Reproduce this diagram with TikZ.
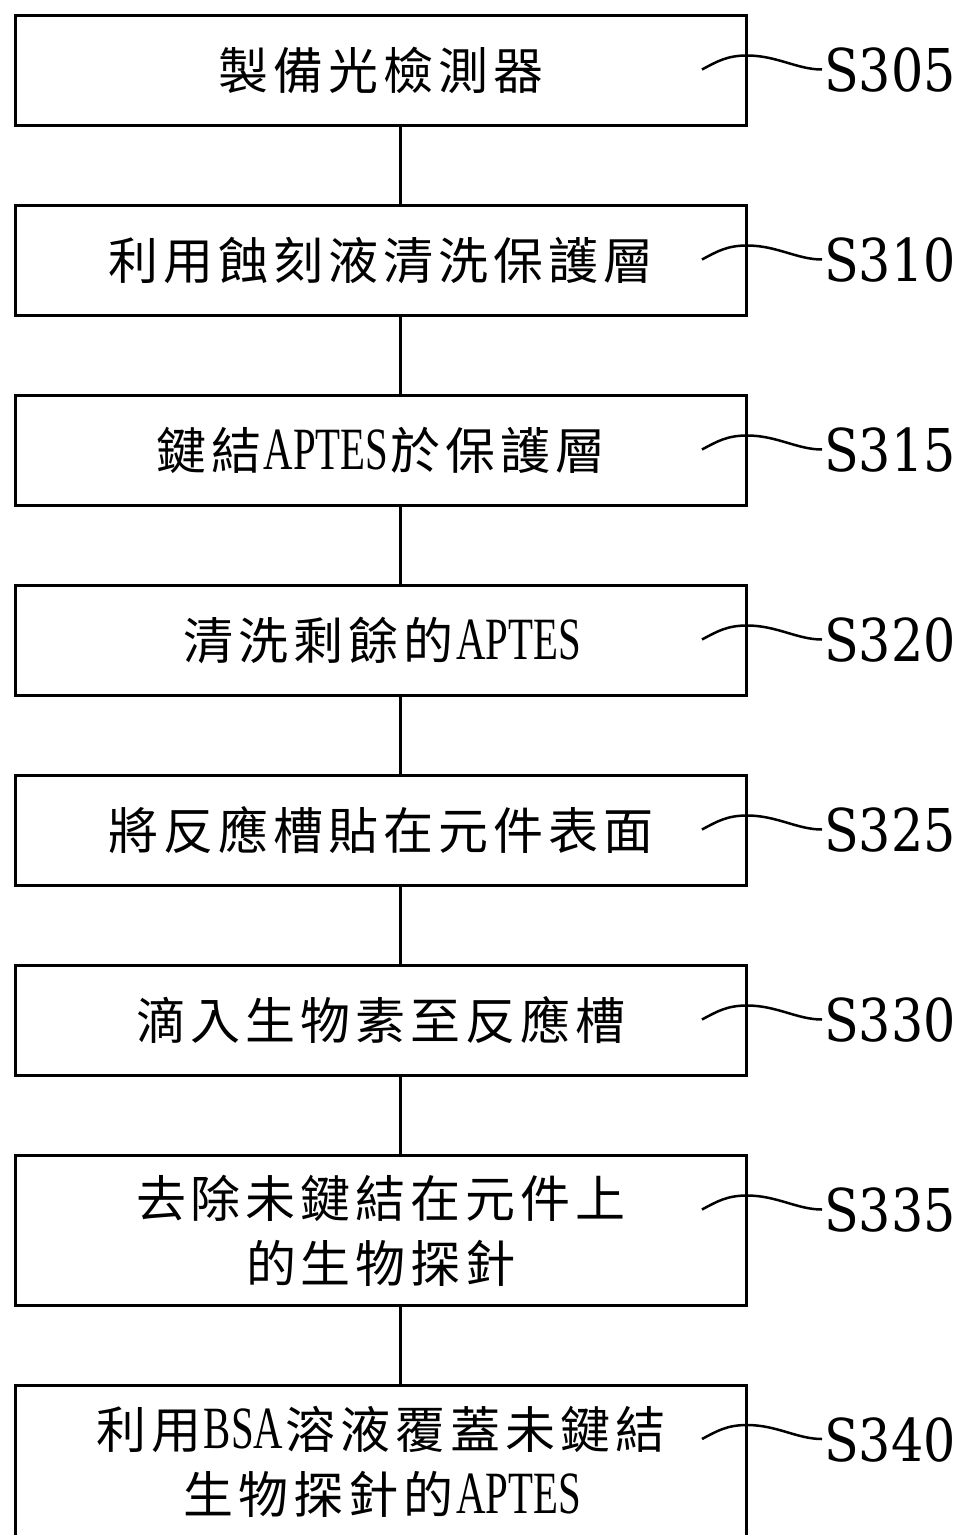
\documentclass[tikz,border=0pt]{standalone}
\usepackage{fontspec}
\usepackage{tikz}
\usetikzlibrary{positioning}

\newfontfamily\cjkfont{Noto Sans CJK TC}
\newfontfamily\latnfont[FakeStretch=0.68]{Liberation Serif}
\newfontfamily\labfont[FakeStretch=0.86]{DejaVu Serif}

% each CJK sign sits in a box of fixed pitch
\makeatletter
\newcommand\zh[1]{{\cjkfont\@tfor\zhch:=#1\do{\makebox[55pt]{\zhch}}}}
\makeatother
\newcommand\la[1]{{\latnfont\fontsize{60}{65}\selectfont #1}}

\begin{document}
\begin{tikzpicture}[
  x=1pt, y=1pt,
  stepbox/.style={draw, line width=3pt, minimum width=731pt, minimum height=110pt,
    inner sep=0pt, align=center, font=\fontsize{50}{65}\selectfont},
  steplabel/.style={anchor=west, inner sep=0pt, font=\labfont\fontsize{59}{59}\selectfont},
  link/.style={line width=3pt},
  leader/.style={line width=2.5pt}
]
\useasboundingbox (0,0) rectangle (966,-1535);

\node[stepbox] (p305) at (381,-70.5) {\zh{製備光檢測器}};
\node[stepbox, below=77pt of p305] (p310) {\zh{利用蝕刻液清洗保護層}};
\node[stepbox, below=77pt of p310] (p315) {\zh{鍵結}\la{APTES}\zh{於保護層}};
\node[stepbox, below=77pt of p315] (p320) {\zh{清洗剩餘的}\la{APTES}};
\node[stepbox, below=77pt of p320] (p325) {\zh{將反應槽貼在元件表面}};
\node[stepbox, below=77pt of p325] (p330) {\zh{滴入生物素至反應槽}};
\node[stepbox, below=77pt of p330, minimum height=150pt] (p335) {\zh{去除未鍵結在元件上}\\\zh{的生物探針}};
\node[stepbox, below=77pt of p335, minimum height=153pt] (p340) {\zh{利用}\la{BSA}\zh{溶液覆蓋未鍵結}\\\zh{生物探針的}\la{APTES}};

% step numbers
\node[steplabel] (l305) at ([xshift=76pt]p305.east) {S305};
\node[steplabel] (l310) at ([xshift=76pt]p310.east) {S310};
\node[steplabel] (l315) at ([xshift=76pt]p315.east) {S315};
\node[steplabel] (l320) at ([xshift=76pt]p320.east) {S320};
\node[steplabel] (l325) at ([xshift=76pt]p325.east) {S325};
\node[steplabel] (l330) at ([xshift=76pt]p330.east) {S330};
\node[steplabel] (l335) at ([xshift=76pt,yshift=20pt]p335.east) {S335};
\node[steplabel] (l340) at ([xshift=76pt,yshift=22pt]p340.east) {S340};

\foreach \a/\b in {305/310,310/315,315/320,320/325,325/330,330/335,335/340}
  \draw[link] ([xshift=19pt]p\a.south) -- ([xshift=19pt]p\b.north);

\foreach \s in {305,310,...,340}{
  \coordinate (e\s) at ([xshift=-122pt,yshift=1pt]l\s.west);
  \draw[leader] ([xshift=-2pt,yshift=1pt]l\s.west) .. controls +(-25,0) and +(30,0) .. ([xshift=-77pt,yshift=15pt]l\s.west)
    .. controls +(-20,0) and +(15,8) .. (e\s);
}
\end{tikzpicture}
\end{document}
